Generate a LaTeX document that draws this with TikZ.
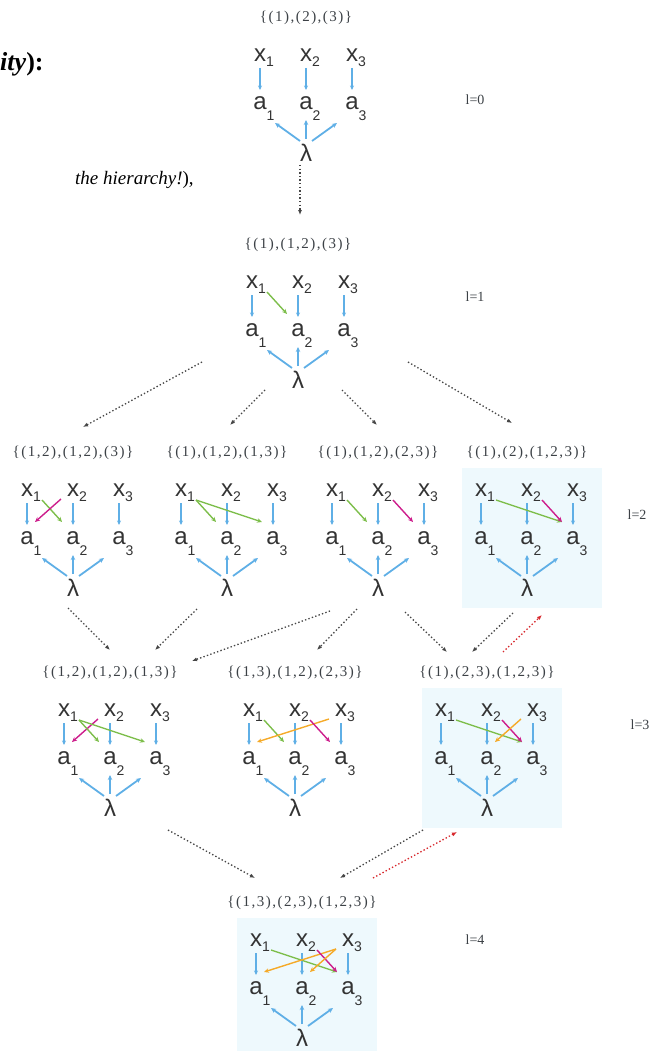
\documentclass[tikz,border=0pt]{standalone}
\usepackage{fontspec}
\setmainfont{Liberation Serif}
\newfontfamily\varfont{Liberation Sans}
\newfontfamily\setfont[LetterSpace=10]{Liberation Serif}
\usetikzlibrary{arrows.meta,calc,positioning}
\definecolor{lineblue}{RGB}{95,175,230}
\definecolor{linegreen}{RGB}{125,190,75}
\definecolor{linemagenta}{RGB}{205,30,140}
\definecolor{lineorange}{RGB}{245,170,40}
\definecolor{flowgray}{RGB}{70,70,70}
\definecolor{flowred}{RGB}{215,40,45}
\definecolor{shadecyan}{RGB}{238,249,253}
\definecolor{textgray}{RGB}{60,65,70}

\newcommand{\xidx}[1]{\rlap{\raisebox{-5pt}{\fontsize{14}{14}\selectfont #1}}}
\newcommand{\aidx}[1]{\rlap{\raisebox{-11pt}{\fontsize{14}{14}\selectfont #1}}}

% one small graph: name, centre x, x-row y, label
\newcommand{\latticegraph}[4]{%
  \node[setlabel] (#1-lab) at (#2,#3-37) {#4};
  \node[var] (#1-x1) at (#2-46,#3) {x\xidx{1}};
  \node[var] (#1-x2) at (#2,#3) {x\xidx{2}};
  \node[var] (#1-x3) at (#2+46,#3) {x\xidx{3}};
  \node[var] (#1-a1) at (#2-46,#3+48) {a\aidx{1}};
  \node[var] (#1-a2) at (#2,#3+48) {a\aidx{2}};
  \node[var] (#1-a3) at (#2+46,#3+48) {a\aidx{3}};
  \node[lam] (#1-l) at (#2,#3+98) {λ};
  \draw[varedge] (#1-x1.center) -- (#1-a1.center);
  \draw[varedge] (#1-x2.center) -- (#1-a2.center);
  \draw[varedge] (#1-x3.center) -- (#1-a3.center);
  \draw[lamedge] ($(#1-l.center)+(-6,-12)$) -- ($(#1-a1.center)+(15,20)$);
  \draw[lamedge] ($(#1-l.center)+(0,-14)$) -- ($(#1-a2.center)+(0,17)$);
  \draw[lamedge] ($(#1-l.center)+(6,-12)$) -- ($(#1-a3.center)+(-15,20)$);
}
% x_i -> a_j, to the right / to the left
\newcommand{\rcross}[4]{\draw[crossedge,#4] ($(#1-x#2.center)+(15,10)$) -- ($(#1-a#3.center)+(-11,-16)$);}
\newcommand{\lcross}[4]{\draw[crossedge,#4] ($(#1-x#2.center)+(-12,9)$) -- ($(#1-a#3.center)+(8,-16)$);}

\begin{document}
\begin{tikzpicture}[x=1pt, y=-1pt,
    var/.style={inner sep=0pt, text height=12.5pt, text depth=0pt, font=\varfont\fontsize{24}{24}\selectfont, text=black!80},
    lam/.style={inner sep=0pt, text height=17pt, text depth=0pt, font=\varfont\fontsize{24}{24}\selectfont, text=black!80},
    setlabel/.style={inner sep=0pt, font=\setfont\fontsize{15}{15}\selectfont, text=textgray},
    level/.style={inner sep=0pt, font=\fontsize{14}{14}\selectfont, text=textgray},
    note/.style={inner sep=0pt, anchor=west, text=black},
    varedge/.style={-{Stealth[length=4.5pt,width=4pt]}, lineblue, line width=1.1pt, shorten <=13pt, shorten >=13pt},
    lamedge/.style={-{Stealth[length=5pt,width=4.5pt]}, lineblue, line width=1.8pt},
    crossedge/.style={-{Stealth[length=5pt,width=4.5pt]}, line width=1.4pt},
    flow/.style={-{Latex[length=5pt,width=4pt]}, flowgray, line width=1.3pt, dash pattern=on 1.4pt off 2.2pt},
    flowback/.style={flow, flowred}
]
\useasboundingbox (0,0) rectangle (655,1051);

% text left over from the slide
\node[note, font=\fontsize{26}{26}\selectfont] (simplicity) at (0,64) {\textbf{\textit{ity}):}};
\node[note, font=\fontsize{19}{19}\selectfont] (hierarchy) at (75,180) {\textit{the hierarchy!}),};

% shaded graphs
\fill[shadecyan] (462,468) rectangle (602,608);
\fill[shadecyan] (422,688) rectangle (562,828);
\fill[shadecyan] (237,918) rectangle (377,1051);

% Level 0
\latticegraph{g0}{306}{55}{\{(1),(2),(3)\}}
\node[level] (lev0) at (475,100) {l=0};

% Level 1
\latticegraph{g1}{298}{282}{\{(1),(1,2),(3)\}}
\rcross{g1}{1}{2}{linegreen}
\node[level] (lev1) at (475,297) {l=1};

% Level 2
\latticegraph{g2a}{73}{490}{\{(1,2),(1,2),(3)\}}
\rcross{g2a}{1}{2}{linegreen}
\lcross{g2a}{2}{1}{linemagenta}
\latticegraph{g2b}{227}{490}{\{(1),(1,2),(1,3)\}}
\rcross{g2b}{1}{2}{linegreen}
\rcross{g2b}{1}{3}{linegreen}
\latticegraph{g2c}{378}{490}{\{(1),(1,2),(2,3)\}}
\rcross{g2c}{1}{2}{linegreen}
\rcross{g2c}{2}{3}{linemagenta}
\latticegraph{g2d}{527}{490}{\{(1),(2),(1,2,3)\}}
\rcross{g2d}{1}{3}{linegreen}
\rcross{g2d}{2}{3}{linemagenta}
\node[level] (lev2) at (637,515) {l=2};

% Level 3
\latticegraph{g3a}{110}{710}{\{(1,2),(1,2),(1,3)\}}
\lcross{g3a}{2}{1}{linemagenta}
\rcross{g3a}{1}{2}{linegreen}
\rcross{g3a}{1}{3}{linegreen}
\latticegraph{g3b}{295}{710}{\{(1,3),(1,2),(2,3)\}}
\rcross{g3b}{1}{2}{linegreen}
\lcross{g3b}{3}{1}{lineorange}
\rcross{g3b}{2}{3}{linemagenta}
\latticegraph{g3c}{487}{710}{\{(1),(2,3),(1,2,3)\}}
\rcross{g3c}{1}{3}{linegreen}
\rcross{g3c}{2}{3}{linemagenta}
\lcross{g3c}{3}{2}{lineorange}
\node[level] (lev3) at (640,725) {l=3};

% Level 4
\latticegraph{g4}{302}{940}{\{(1,3),(2,3),(1,2,3)\}}
\rcross{g4}{1}{3}{linegreen}
\lcross{g4}{3}{1}{lineorange}
\rcross{g4}{2}{3}{linemagenta}
\lcross{g4}{3}{2}{lineorange}
\node[level] (lev4) at (475,940) {l=4};

% dotted steps between levels
\coordinate (s01) at (300,165); \coordinate (e01) at (300,215);
\coordinate (s1a) at (202,362); \coordinate (e1a) at (83,427);
\coordinate (s1b) at (265,390); \coordinate (e1b) at (230,425);
\coordinate (s1c) at (342,390); \coordinate (e1c) at (377,425);
\coordinate (s1d) at (408,362); \coordinate (e1d) at (512,423);
\coordinate (s2a) at (68,608);  \coordinate (e2a) at (110,650);
\coordinate (s2b) at (197,609); \coordinate (e2b) at (155,650);
\coordinate (s2c) at (330,611); \coordinate (e2c) at (192,661);
\coordinate (s2d) at (357,609); \coordinate (e2d) at (317,650);
\coordinate (s2e) at (405,612); \coordinate (e2e) at (447,652);
\coordinate (s2f) at (513,613); \coordinate (e2f) at (472,652);
\coordinate (s2g) at (503,652); \coordinate (e2g) at (542,615);
\coordinate (s3a) at (168,830); \coordinate (e3a) at (255,878);
\coordinate (s3b) at (423,830); \coordinate (e3b) at (340,878);
\coordinate (s3c) at (373,878); \coordinate (e3c) at (457,832);

\draw[flow] (s01) -- (e01);
\draw[flow] (s1a) -- (e1a);
\draw[flow] (s1b) -- (e1b);
\draw[flow] (s1c) -- (e1c);
\draw[flow] (s1d) -- (e1d);
\draw[flow] (s2a) -- (e2a);
\draw[flow] (s2b) -- (e2b);
\draw[flow] (s2c) -- (e2c);
\draw[flow] (s2d) -- (e2d);
\draw[flow] (s2e) -- (e2e);
\draw[flow] (s2f) -- (e2f);
\draw[flowback] (s2g) -- (e2g);
\draw[flow] (s3a) -- (e3a);
\draw[flow] (s3b) -- (e3b);
\draw[flowback] (s3c) -- (e3c);

\end{tikzpicture}
\end{document}
